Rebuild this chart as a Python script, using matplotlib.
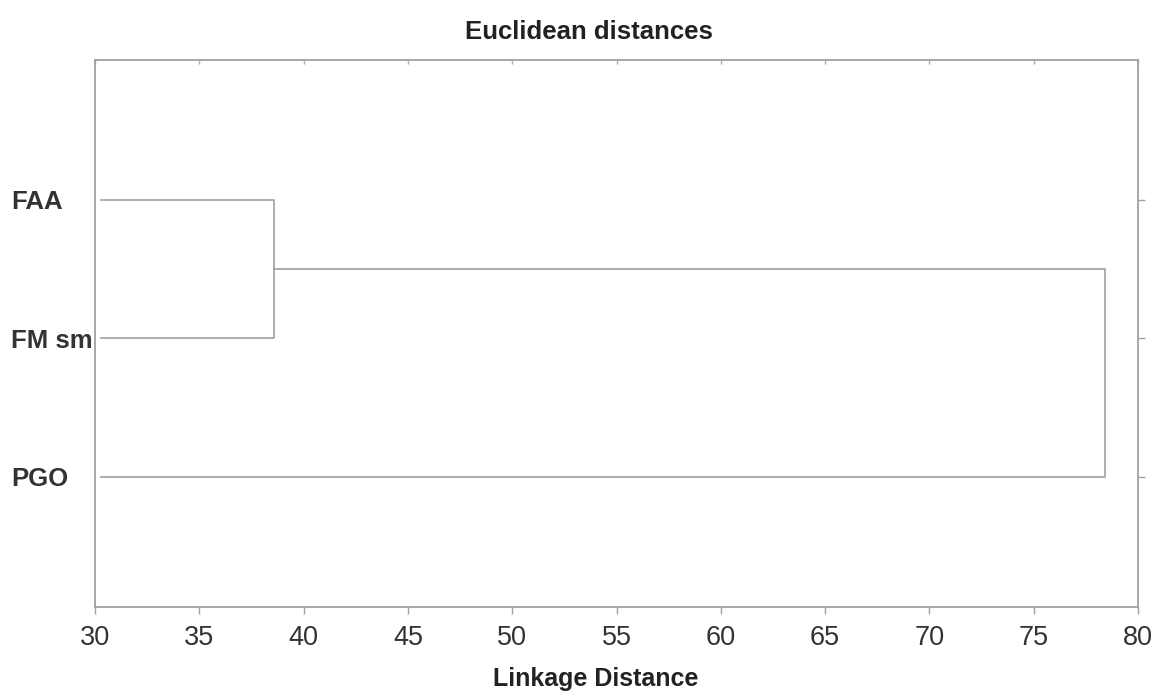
import matplotlib
matplotlib.use("Agg")
import matplotlib.pyplot as plt

# leaves (top to bottom) and linkage distances
leaves = ["FAA", "FM sm", "PGO"]
leaf_pos = [3, 2, 1]
leaf_start = 30.3
merge1 = 38.6   # FAA + FM sm
merge2 = 78.4   # (FAA, FM sm) + PGO
xticks = [30, 35, 40, 45, 50, 55, 60, 65, 70, 75, 80]

plt.rcParams['font.family'] = ['Liberation Sans', 'DejaVu Sans']
line_col = "#a0a0a0"

fig = plt.figure(figsize=(11.62, 6.93), dpi=100)
ax = fig.add_axes([95 / 1162, 1 - 607 / 693, 1043 / 1162, 547 / 693])

# first cluster
y_mid1 = (leaf_pos[0] + leaf_pos[1]) / 2
ax.plot([leaf_start, merge1, merge1, leaf_start],
        [leaf_pos[0], leaf_pos[0], leaf_pos[1], leaf_pos[1]],
        color=line_col, lw=1.2)
# second cluster
ax.plot([merge1, merge2, merge2, leaf_start],
        [y_mid1, y_mid1, leaf_pos[2], leaf_pos[2]],
        color=line_col, lw=1.2)

ax.set_xlim(30, 80)
ax.set_ylim(0.06, 4.01)
ax.set_xticks(xticks)
ax.set_xticklabels([str(t) for t in xticks], fontsize=19.5, color="#333333")
ax.set_yticks(leaf_pos)
ax.set_yticklabels(leaves, fontsize=18.5, fontweight="bold", color="#333333")

ax.tick_params(axis="x", direction="out", length=5, width=1, color=line_col,
               pad=8)
ax.tick_params(axis="y", left=False, right=True, direction="out", length=5,
               width=1, color=line_col, pad=2)
for lbl in ax.get_yticklabels():
    lbl.set_horizontalalignment("left")
    lbl.set_x(-74 / 1043)

# tiny inward ticks along the top
top = ax.secondary_xaxis("top")
top.set_xticks(xticks)
top.set_xticklabels([])
top.tick_params(direction="in", length=3, width=1, color="#b0b0b0")
top.spines["top"].set_visible(False)

for s in ax.spines.values():
    s.set_color(line_col)
    s.set_linewidth(1.3)

ax.set_title("Euclidean distances", fontsize=18.5, fontweight="bold",
             color="#222222", pad=15, x=0.474)
ax.set_xlabel("Linkage Distance", fontsize=18, fontweight="bold",
              color="#222222")
ax.xaxis.set_label_coords(0.48, -0.11)

fig.savefig("out.png", dpi=100, facecolor="white")
